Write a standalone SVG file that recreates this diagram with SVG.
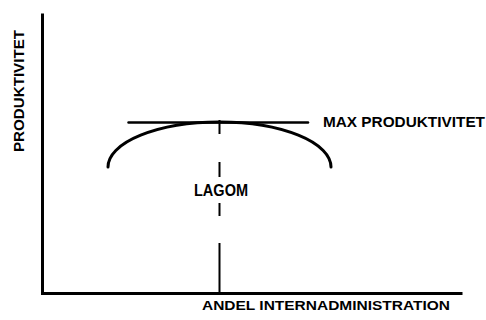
<svg xmlns="http://www.w3.org/2000/svg" width="486" height="320" viewBox="0 0 486 320">
<style>
.t{font-family:"Liberation Sans",Arial,sans-serif;font-weight:bold;fill:#000}
.ax{stroke:#000;stroke-width:3;fill:none;stroke-linecap:square}
.dl{stroke:#000;stroke-width:2;fill:none}
</style>
<rect width="486" height="320" fill="#fff"/>
<g id="axes">
<path class="ax" d="M42.5,15 V293.5 H461"/>
</g>
<g id="connectors">
<path class="dl" d="M219.5,120 V134 M219.5,162 V177 M219.5,203 V216 M219.5,243 V293"/>
</g>
<g id="max-line">
<path d="M128.5,122.5 H308" stroke="#000" stroke-width="2.5" stroke-linecap="round" fill="none"/>
</g>
<g id="curve">
<path d="M108,167 A111.5,45 0 0 1 331,167" stroke="#000" stroke-width="3" stroke-linecap="round" fill="none"/>
</g>
<g id="label-y">
<text class="t" font-size="14" transform="translate(24,152) rotate(-90)" textLength="122" lengthAdjust="spacingAndGlyphs">PRODUKTIVITET</text>
</g>
<g id="label-max">
<text class="t" x="323" y="126.5" font-size="14" textLength="162" lengthAdjust="spacingAndGlyphs">MAX PRODUKTIVITET</text>
</g>
<g id="label-lagom">
<text class="t" x="194" y="195.5" font-size="16" textLength="54" lengthAdjust="spacingAndGlyphs">LAGOM</text>
</g>
<g id="label-x">
<text class="t" x="202" y="310" font-size="13.5" textLength="248" lengthAdjust="spacingAndGlyphs">ANDEL INTERNADMINISTRATION</text>
</g>
</svg>
